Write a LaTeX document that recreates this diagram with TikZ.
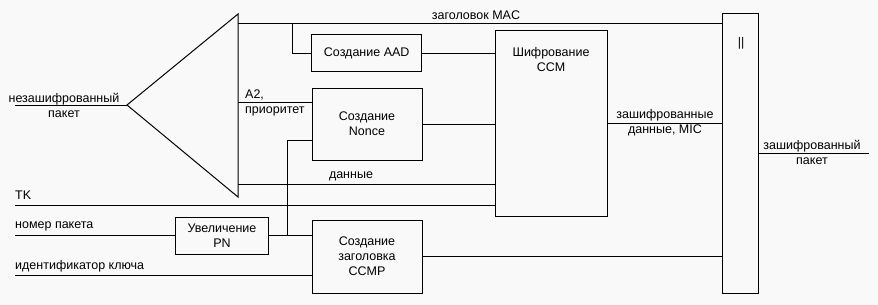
\documentclass[tikz,border=0pt]{standalone}
\usepackage{fontspec}
\setmainfont{Liberation Sans}
\begin{document}
\begin{tikzpicture}[x=1pt,y=-1pt,
  every node/.style={font=\fontsize{12.5}{15}\selectfont, inner sep=0pt},
  box/.style={draw, line width=1pt, align=center},
  wire/.style={line width=1pt},
  lbl/.style={align=center}]
\fill[fill={rgb,255:red,249;green,249;blue,249}] (0,0) rectangle (878,305);
\useasboundingbox (0,0) rectangle (878,305);
% boxes
\node[box, minimum width=110pt, minimum height=37pt] (aad) at (366.7,53.5) {Создание AAD};
\node[box, minimum width=110pt, minimum height=72pt] (nonce) at (367,124) {Создание\\Nonce};
\node[box, minimum width=112pt, minimum height=185pt] (ccm) at (551,123.5) {};
\node[lbl] (ccmt) at (551,60) {Шифрование\\CCM};
\node[box, minimum width=92.5pt, minimum height=37pt] (pn) at (222,235.5) {Увеличение\\PN};
\node[box, minimum width=110pt, minimum height=73pt] (ccmp) at (367,256.5) {Создание\\заголовка\\CCMP};
\node[box, minimum width=35.6pt, minimum height=280pt] (cat) at (740.5,153.3) {};
\node (catt) at (741,43) {||};
% triangle
\coordinate (apex) at (127,105);
\coordinate (ttop) at (238,14);
\coordinate (tbot) at (238,197);
\draw[wire] (apex) -- (ttop) -- (tbot) -- cycle;
\coordinate (inL) at (15,105);
\draw[wire] (inL) -- (apex);
% MAC header
\coordinate (macS) at (238,24);
\coordinate (macB) at (292,24);
\draw[wire] (macS) -- (cat.west |- macS);
\draw[wire] (macB) |- (aad.west);
\draw[wire] (aad.east) -- (ccm.west |- aad.east);
% A2, priority
\coordinate (a2S) at (238,102);
\draw[wire] (a2S) -- (nonce.west |- a2S);
\draw[wire] (nonce.east) -- (ccm.west |- nonce.east);
% PN to nonce
\coordinate (pnN) at (287,140);
\coordinate (pnJ) at (287,235);
\draw[wire] (nonce.west |- pnN) -- (pnN) -- (pnJ);
% data
\coordinate (datS) at (238,184);
\draw[wire] (datS) -- (ccm.west |- datS);
% TK
\coordinate (tkS) at (15,205.3);
\draw[wire] (tkS) -- (ccm.west |- tkS);
% packet number
\coordinate (pnS) at (15,235);
\draw[wire] (pnS) -- (pn.west |- pnS);
\draw[wire] (pn.east |- pnS) -- (ccmp.west |- pnS);
% key id
\coordinate (kiS) at (15,275);
\draw[wire] (kiS) -- (ccmp.west |- kiS);
\draw[wire] (ccmp.east) -- (cat.west |- ccmp.east);
% CCM out
\draw[wire] (ccm.east) -- (cat.west |- ccm.east);
% output
\coordinate (outE) at (869,153.3);
\draw[wire] (cat.east |- outE) -- (outE);
% labels
\node[lbl] (l1) at (64,105) {незашифрованный\\пакет};
\node[lbl] (l2) at (476,15) {заголовок MAC};
\node[align=left, anchor=west] (l3) at (245,103) {A2,\\приоритет};
\node[lbl] (l4) at (351,176) {данные};
\node[anchor=west] (l5) at (15,195.5) {TK};
\node[anchor=west] (l6) at (15,226) {номер пакета};
\node[anchor=west] (l7) at (15,266) {идентификатор ключа};
\node[lbl] (l8) at (665,123) {зашифрованные\\данные, MIC};
\node[lbl] (l9) at (812,152) {зашифрованный\\пакет};
\end{tikzpicture}
\end{document}
